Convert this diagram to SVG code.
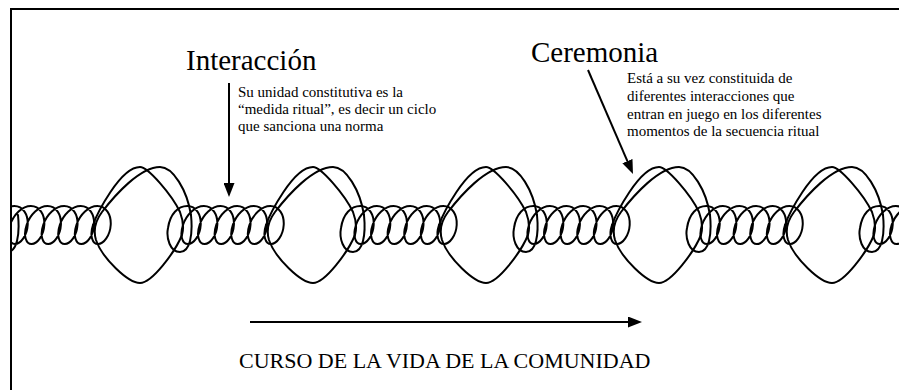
<svg xmlns="http://www.w3.org/2000/svg" width="899" height="390" viewBox="0 0 899 390">
<style>
.rope{fill:none;stroke:#000;stroke-width:2;stroke-linejoin:round;stroke-linecap:round}
.frame{fill:none;stroke:#000;stroke-width:2}
.t{fill:#000}
.title{font-size:29px}
.note{font-size:15px}
.foot{font-size:22px}
.arr{stroke:#000;stroke-width:2;fill:none;marker-end:url(#ah)}
</style>
<defs>
<marker id="ah" markerUnits="userSpaceOnUse" markerWidth="14" markerHeight="11" viewBox="0 0 14 11" refX="4" refY="5.5" orient="auto">
<path d="M0,0 L14,5.5 L0,11 z" fill="#000"/>
</marker>
<clipPath id="clip"><rect x="12" y="0" width="887" height="390"/></clipPath>
<path id="loop" class="rope" d="M -47 225 C -43.5 215 -20 167 0 167 C 8 167 32 195 40 212 C 43 220 44 228 42 235 C 35 252 12 283 0 283 C -12 283 -38 258 -44 240 C -47 230 -44 220 -38 212 C -25 195 0 167 20 167 C 33 167 47 190 51 215"/>
<path id="coil" class="rope" d="M 51 215 C 53 235 50 252 40 252 C 30 252 26 238 28 228 C 30 214 38 206 47.35 206
c 8.64 0 13.99 8.51 13.35 19 c -0.64 10.49 -6.93 19 -12.65 19 c -5.72 0 -8.61 -8.51 -5.05 -19 c 3.56 -10.49 12.31 -19 20.95 -19
c 8.64 0 13.99 8.51 13.35 19 c -0.64 10.49 -6.93 19 -12.65 19 c -5.72 0 -8.61 -8.51 -5.05 -19 c 3.56 -10.49 12.31 -19 20.95 -19
c 8.64 0 13.99 8.51 13.35 19 c -0.64 10.49 -6.93 19 -12.65 19 c -5.72 0 -8.61 -8.51 -5.05 -19 c 3.56 -10.49 12.31 -19 20.95 -19
c 8.64 0 13.99 8.51 13.35 19 c -0.64 10.49 -6.93 19 -12.65 19 c -5.72 0 -8.61 -8.51 -5.05 -19 c 3.56 -10.49 12.31 -19 20.95 -19
c 8.64 0 13.99 8.51 13.35 19 c -0.64 10.49 -6.93 19 -12.65 19 c -5.72 0 -8.61 -8.51 -5.05 -19 c 3.56 -10.49 12.31 -19 20.95 -19
c 8.64 0 13.99 8.51 13.35 19 c -0.64 10.49 -6.93 19 -12.65 19 c -5.72 0 -8.61 -8.51 -5.05 -19"/>
</defs>
<rect width="899" height="390" fill="#fff"/>
<path class="frame" d="M11,390 V9 H899"/>
<g id="rope" clip-path="url(#clip)">
<g id="unit0"><use href="#coil" x="-33"/></g>
<g id="unit1"><use href="#loop" x="140"/><use href="#coil" x="140"/></g>
<g id="unit2"><use href="#loop" x="313"/><use href="#coil" x="313"/></g>
<g id="unit3"><use href="#loop" x="486"/><use href="#coil" x="486"/></g>
<g id="unit4"><use href="#loop" x="659"/><use href="#coil" x="659"/></g>
<g id="unit5"><use href="#loop" x="832"/><use href="#coil" x="832"/></g>
</g>
<g font-family="Liberation Serif, DejaVu Serif, serif">
<g id="interaccion">
<text class="t title" x="186" y="70">Interacción</text>
<text class="t note" x="238" y="97">Su unidad constitutiva es la</text>
<text class="t note" x="238" y="114">“medida ritual”, es decir un ciclo</text>
<text class="t note" x="238" y="131">que sanciona una norma</text>
</g>
<g id="ceremonia">
<text class="t title" x="531" y="62">Ceremonia</text>
<text class="t note" x="627" y="83">Está a su vez constituida de</text>
<text class="t note" x="627" y="101">diferentes interacciones que</text>
<text class="t note" x="627" y="118.5">entran en juego en los diferentes</text>
<text class="t note" x="627" y="136">momentos de la secuencia ritual</text>
</g>
<g id="curso">
<text class="t foot" x="239" y="368">CURSO DE LA VIDA DE LA COMUNIDAD</text>
</g>
</g>
<g id="connectors">
<line class="arr" x1="229" y1="83" x2="229" y2="187"/>
<line class="arr" x1="588" y1="70" x2="629" y2="164.8"/>
<line class="arr" x1="250" y1="322" x2="632" y2="322"/>
</g>
</svg>
